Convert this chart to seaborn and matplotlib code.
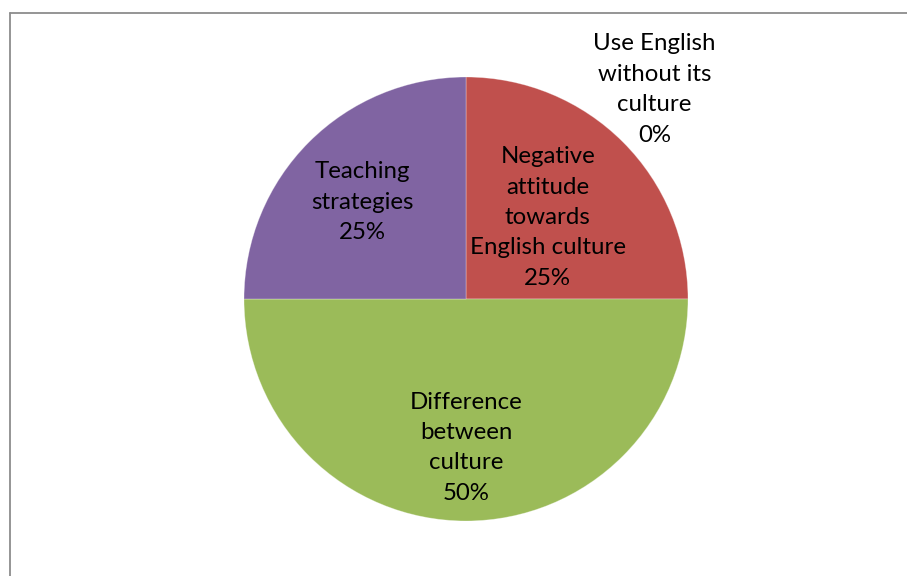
import matplotlib
matplotlib.use("Agg")
import matplotlib.pyplot as plt
from matplotlib.lines import Line2D
import numpy as np
import seaborn as sns

sns.set_theme(style="white")
plt.rcParams["font.family"] = ["Lato", "DejaVu Sans"]

categories = [
    "Use English\nwithout its\nculture",
    "Negative\nattitude\ntowards\nEnglish culture",
    "Difference\nbetween\nculture",
    "Teaching\nstrategies",
]
values = [0, 25, 50, 25]
colors = ["#4F81BD", "#C0504D", "#9BBB59", "#8064A2"]

# label placement: (radial distance as fraction of radius, angle offset in degrees)
label_dist = [1.27, 0.52, 0.67, 0.64]
label_angle_shift = [-42, 0, 0, 2]

W, H = 907, 576
fig = plt.figure(figsize=(W / 100, H / 100), dpi=100)
cx, cy, R = 466, 299, 222
ax = fig.add_axes([(cx - R) / W, (H - cy - R) / H, 2 * R / W, 2 * R / H])

wedges, _ = ax.pie(values, colors=colors, startangle=90, counterclock=False,
                   radius=1.0, wedgeprops=dict(linewidth=0.6, edgecolor=(1, 1, 1, 0.35)))
ax.set_xlim(-1, 1)
ax.set_ylim(-1, 1)
ax.set_aspect("equal")
ax.axis("off")

total = sum(values)
for w, name, v, d, sh in zip(wedges, categories, values, label_dist, label_angle_shift):
    mid = np.deg2rad((w.theta1 + w.theta2) / 2 + sh)
    x, y = d * np.cos(mid), d * np.sin(mid)
    ax.text(x, y, f"{name}\n{v / total * 100:.0f}%", ha="center", va="center",
            fontsize=17.3, color="black", linespacing=1.55, clip_on=False)

# chart-area border (top and left edges)
fig.add_artist(Line2D([9.5 / W, 1], [1 - 12.5 / H, 1 - 12.5 / H], color="#8c8c8c", lw=1.3))
fig.add_artist(Line2D([9.5 / W, 9.5 / W], [0, 1 - 12.5 / H], color="#8c8c8c", lw=1.3))

fig.savefig("out.png", dpi=100, facecolor="white")
